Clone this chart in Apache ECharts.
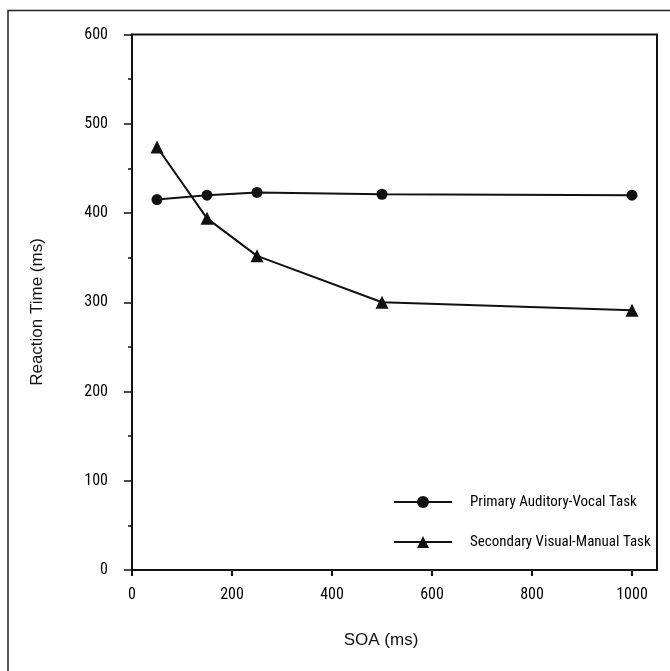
<!DOCTYPE html>
<html>
<head>
<meta charset="utf-8">
<script src="https://cdn.jsdelivr.net/npm/echarts@6/dist/echarts.min.js"></script>
<style>
html,body{margin:0;padding:0;background:#fff;}
#chart{width:670px;height:671px;}
</style>
</head>
<body>
<div id="chart"></div>
<script>
const soa = [50, 150, 250, 500, 1000];
const primaryRT = [415, 420, 423, 421, 420];
const secondaryRT = [474, 394, 352, 300, 291];
const xTicks = [0, 200, 400, 600, 800, 1000];
const seriesNames = ['Primary Auditory-Vocal Task', 'Secondary Visual-Manual Task'];
const xTitle = 'SOA (ms)';
const yTitle = 'Reaction Time (ms)';

const sans = '"Liberation Sans", Arial, Helvetica, sans-serif';
const ink = '#111';

// pick a condensed face if one is installed, otherwise a smaller regular face
function hasFont(name) {
  const c = document.createElement('canvas').getContext('2d');
  const s = 'Primary Auditory-Vocal Task 0123456789';
  c.font = '40px monospace';
  const a = c.measureText(s).width;
  c.font = '40px "' + name + '", monospace';
  return Math.abs(c.measureText(s).width - a) > 0.5;
}
let tickFont = sans, tickSize = 14, legendSize = 13;
for (const f of ['Liberation Sans Narrow', 'Arial Narrow', 'Roboto Condensed', 'Open Sans Condensed']) {
  if (hasFont(f)) { tickFont = '"' + f + '", ' + sans; tickSize = 16; legendSize = 15; break; }
}

const chart = echarts.init(document.getElementById('chart'), null, {renderer: 'canvas'});
chart.setOption({
  animation: false,
  backgroundColor: '#fff',
  grid: {left: 132, right: 13, top: 34.5, bottom: 101, show: true, borderColor: ink, borderWidth: 2, containLabel: false},
  xAxis: {
    type: 'value', min: 0, max: 1050,
    axisLine: {show: true, onZero: false, lineStyle: {color: ink, width: 2}},
    axisTick: {show: true, length: 6, customValues: xTicks, lineStyle: {color: ink, width: 2}},
    axisLabel: {customValues: xTicks, margin: 17, color: '#000', fontFamily: tickFont, fontSize: tickSize, formatter: v => String(v)},
    splitLine: {show: false}
  },
  yAxis: {
    type: 'value', min: 0, max: 600, interval: 100,
    axisLine: {show: true, lineStyle: {color: ink, width: 2}},
    axisTick: {show: true, length: 8, lineStyle: {color: ink, width: 1.5}},
    minorTick: {show: true, splitNumber: 2, length: 4, lineStyle: {color: ink, width: 1.5}},
    axisLabel: {margin: 24, color: '#000', fontFamily: tickFont, fontSize: tickSize, formatter: v => String(v)},
    splitLine: {show: false}
  },
  legend: {
    orient: 'vertical', left: 388, top: 489.5,
    itemWidth: 58, itemHeight: 15, itemGap: 25,
    data: seriesNames,
    textStyle: {color: '#000', fontFamily: tickFont, fontSize: legendSize, lineHeight: 15, padding: [0, 0, 0, 13]}
  },
  graphic: [
    {type: 'rect', silent: true, shape: {x: 8, y: 10.5, width: 700, height: 700}, style: {fill: 'none', stroke: '#222', lineWidth: 1.5}},
    {type: 'text', x: 381, y: 640, style: {text: xTitle, fill: ink, font: '17px ' + sans, align: 'center', verticalAlign: 'middle'}},
    {type: 'text', x: 37, y: 312, rotation: Math.PI / 2, style: {text: yTitle, fill: ink, font: '17px ' + sans, align: 'center', verticalAlign: 'middle'}}
  ],
  series: [
    {
      name: seriesNames[0], type: 'line',
      data: soa.map((s, i) => [s, primaryRT[i]]),
      symbol: 'circle', symbolSize: 11,
      lineStyle: {color: ink, width: 2}, itemStyle: {color: ink}
    },
    {
      name: seriesNames[1], type: 'line',
      data: soa.map((s, i) => [s, secondaryRT[i]]),
      symbol: 'triangle', symbolSize: 13,
      lineStyle: {color: ink, width: 2}, itemStyle: {color: ink}
    }
  ]
});
</script>
</body>
</html>
